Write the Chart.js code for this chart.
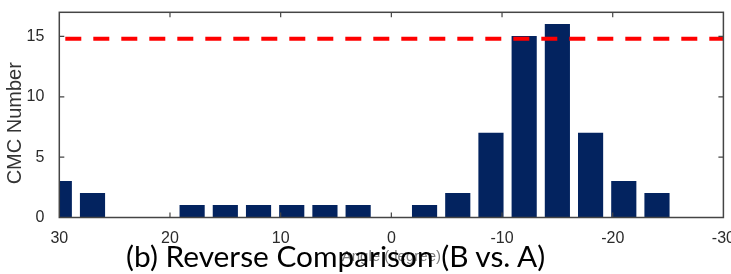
<!DOCTYPE html>
<html>
<head>
<meta charset="utf-8">
<script src="https://cdn.jsdelivr.net/npm/chart.js@4.4.1/dist/chart.umd.min.js"></script>
<style>
  html, body { margin: 0; padding: 0; background: #ffffff; }
  #wrap { position: relative; width: 731px; height: 274px; overflow: hidden; }
  #chart { position: absolute; left: 0; top: 0; }
  #caption { position: absolute; white-space: nowrap; color: #000; font-family: Lato, "Open Sans", sans-serif; line-height: 1; }
</style>
</head>
<body>
<div id="wrap">
  <canvas id="chart" width="731" height="274"></canvas>
  <div id="caption">(b) Reverse Comparison (B vs. A)</div>
</div>
<script>
// ---- data ----
const angles = [30, 27, 24, 21, 18, 15, 12, 9, 6, 3, 0, -3, -6, -9, -12, -15, -18, -21, -24, -27, -30];
const cmcCounts = [3, 2, 0, 0, 1, 1, 1, 1, 1, 1, 0, 1, 2, 7, 15, 16, 7, 3, 2, 0, 0];
const thresholdValue = 14.8;
const thresholdRange = [30, -30];
const xTickValues = [30, 20, 10, 0, -10, -20, -30];
const yTickValues = [0, 5, 10, 15];
const xAxisTitle = "Angle (degree)";
const yAxisTitle = "CMC Number";
const captionText = "(b) Reverse Comparison (B vs. A)";

const barData = angles.map((a, i) => ({ x: a, y: cmcCounts[i] }));
const lineData = thresholdRange.map(a => ({ x: a, y: thresholdValue }));

const frameColor = '#454545';
const tickLen = 5;

const matlabFrame = {
  id: 'matlabFrame',
  afterDraw(chart) {
    const { ctx, chartArea: a, scales } = chart;
    ctx.save();
    ctx.strokeStyle = frameColor;
    ctx.lineWidth = 1.5;
    ctx.strokeRect(a.left, a.top, a.right - a.left, a.bottom - a.top);
    ctx.lineWidth = 1.2;
    ctx.beginPath();
    xTickValues.forEach(v => {
      const px = scales.x.getPixelForValue(v);
      if (Math.abs(px - a.left) < 2 || Math.abs(px - a.right) < 2) return;
      ctx.moveTo(px, a.bottom); ctx.lineTo(px, a.bottom - tickLen);
      ctx.moveTo(px, a.top); ctx.lineTo(px, a.top + tickLen);
    });
    yTickValues.forEach(v => {
      const py = scales.y.getPixelForValue(v);
      if (Math.abs(py - a.bottom) < 2 || Math.abs(py - a.top) < 2) return;
      ctx.moveTo(a.left, py); ctx.lineTo(a.left + tickLen, py);
      ctx.moveTo(a.right, py); ctx.lineTo(a.right - tickLen, py);
    });
    ctx.stroke();
    ctx.restore();
  }
};

const tickFont = { family: '"Liberation Sans", Arial, sans-serif', size: 16 };

new Chart(document.getElementById('chart'), {
  type: 'bar',
  data: {
    datasets: [
      {
        type: 'line',
        data: lineData,
        borderColor: '#ff0000',
        borderWidth: 4,
        borderDash: [16, 12],
        borderDashOffset: 22,
        pointRadius: 0,
        fill: false,
        order: 0
      },
      {
        type: 'bar',
        data: barData,
        backgroundColor: '#03235f',
        borderWidth: 0,
        barThickness: 24.5,
        order: 1
      }
    ]
  },
  plugins: [matlabFrame],
  options: {
    responsive: false,
    animation: false,
    devicePixelRatio: 1,
    layout: { padding: { left: 0, right: 7.6, top: 12.3, bottom: 0 } },
    plugins: { legend: { display: false }, tooltip: { enabled: false } },
    scales: {
      x: {
        type: 'linear',
        reverse: true,
        min: -30,
        max: 30,
        offset: false,
        grid: { display: false, offset: false },
        border: { display: false },
        afterBuildTicks(scale) { scale.ticks = xTickValues.map(v => ({ value: v })); },
        ticks: { font: tickFont, color: '#2b2b2b', padding: 3, maxRotation: 0, autoSkip: false },
        title: { display: true, text: xAxisTitle, color: '#7a7a7a',
                 font: { family: '"Liberation Sans", Arial, sans-serif', size: 15 },
                 padding: { top: 0, bottom: 8 } },
        afterFit(scale) { scale.height = 56.5; scale.paddingLeft = 0; scale.paddingRight = 0; }
      },
      y: {
        type: 'linear',
        min: 0,
        max: 17,
        grid: { display: false },
        border: { display: false },
        afterBuildTicks(scale) { scale.ticks = yTickValues.map(v => ({ value: v })); },
        ticks: { font: tickFont, color: '#2b2b2b', padding: 7 },
        title: { display: true, text: yAxisTitle + '\u00a0\u00a0\u00a0', color: '#333333',
                 font: { family: '"Liberation Sans", Arial, sans-serif', size: 20 },
                 padding: { top: 3.5, bottom: 0 } },
        afterFit(scale) { scale.width = 59.3; scale.paddingTop = 0; scale.paddingBottom = 0; }
      }
    }
  }
});

// caption sizing: fit target width, place baseline
(function () {
  const cap = document.getElementById('caption');
  cap.textContent = captionText;
  const targetWidth = 421, centerX = 336.5, baseline = 267;
  const c = document.createElement('canvas').getContext('2d');
  c.font = '30px Lato';
  const w = c.measureText(captionText).width;
  const size = 30 * targetWidth / w;
  cap.style.fontSize = size.toFixed(2) + 'px';
  c.font = size.toFixed(2) + 'px Lato';
  const m = c.measureText(captionText);
  const asc = m.fontBoundingBoxAscent !== undefined ? m.fontBoundingBoxAscent : size * 0.987;
  const desc = m.fontBoundingBoxDescent !== undefined ? m.fontBoundingBoxDescent : size * 0.213;
  const halfLeading = (size - (asc + desc)) / 2;
  cap.style.top = (baseline - (halfLeading + asc)).toFixed(2) + 'px';
  cap.style.left = (centerX - m.width / 2).toFixed(2) + 'px';
})();
</script>
</body>
</html>
